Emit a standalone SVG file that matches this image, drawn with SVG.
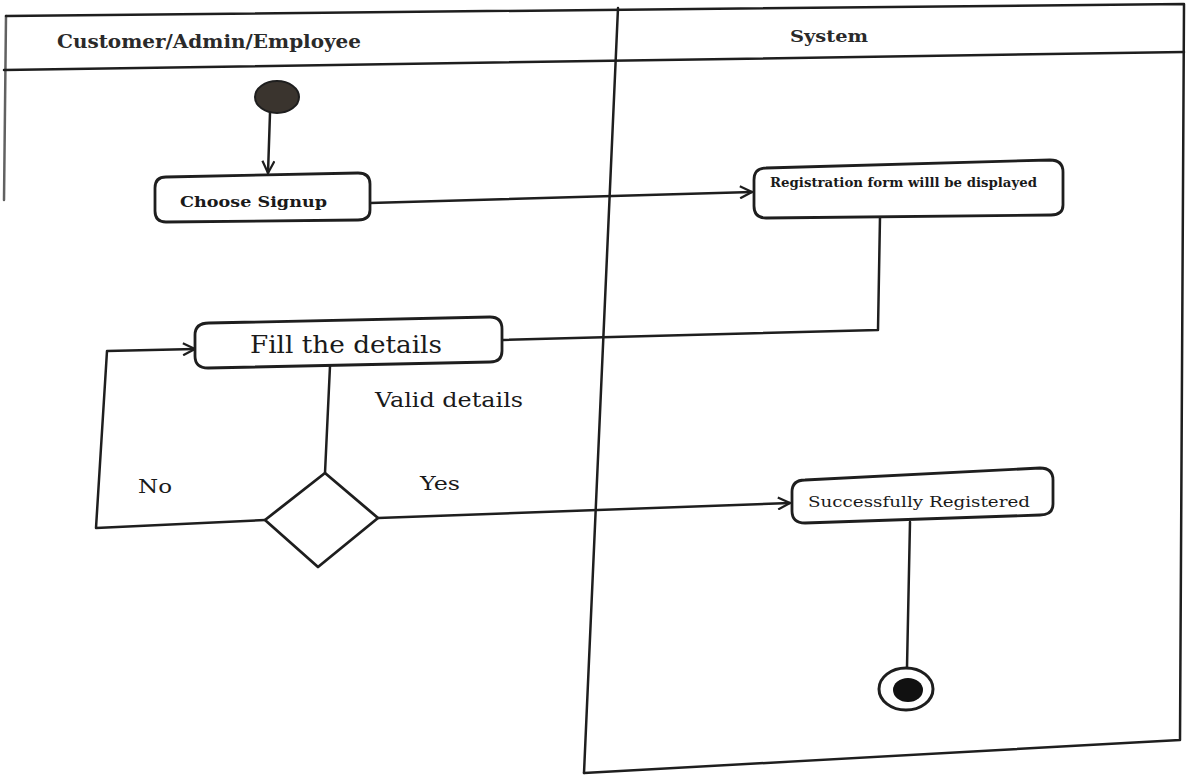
<svg xmlns="http://www.w3.org/2000/svg" width="1188" height="776" viewBox="0 0 1188 776">
<style>
.ln{fill:none;stroke:#1e1e1e;stroke-width:2.5;stroke-linejoin:round;stroke-linecap:round}
.box{fill:#fff;stroke:#1e1e1e;stroke-width:2.8;stroke-linejoin:round}
.t{font-family:"DejaVu Serif","Liberation Serif",serif;fill:#1a1a1a}
.h{font-weight:bold;fill:#2a2a2a}
</style>
<defs>
<marker id="arr" viewBox="0 0 14 14" refX="13" refY="7" markerWidth="14" markerHeight="14" markerUnits="userSpaceOnUse" orient="auto">
<path d="M1,1 L13,7 L1,13" fill="none" stroke="#1e1e1e" stroke-width="2.2"/>
</marker>
</defs>
<rect width="1188" height="776" fill="#fff"/>
<g id="frame">
<path class="ln" d="M6,16 L1184,4 L1180,740 L584,773" />
<path class="ln" d="M6,16 L4,200" stroke-opacity="0.7"/>
<path class="ln" d="M4,70 L1184,52"/>
<path class="ln" d="M618,8 L584,773"/>
<text class="t h" x="57" y="48" font-size="19" textLength="304" lengthAdjust="spacingAndGlyphs">Customer/Admin/Employee</text>
<text class="t h" x="790" y="42" font-size="17" textLength="78" lengthAdjust="spacingAndGlyphs">System</text>
</g>
<g id="connectors">
<path class="ln" d="M270,113 L268,173" marker-end="url(#arr)"/>
<path class="ln" d="M370,203 L752,192" marker-end="url(#arr)"/>
<path class="ln" d="M880,217 L878,330 L503,340"/>
<path class="ln" d="M330,366 L325,473"/>
<path class="ln" d="M265,520 L96,528 L107,351 L195,349" marker-end="url(#arr)"/>
<path class="ln" d="M378,518 L790,503" marker-end="url(#arr)"/>
<path class="ln" d="M910,522 L907,667"/>
<text class="t" x="375" y="407" font-size="20" textLength="148" lengthAdjust="spacingAndGlyphs">Valid details</text>
<text class="t" x="138" y="493" font-size="19" textLength="34" lengthAdjust="spacingAndGlyphs">No</text>
<text class="t" x="420" y="490" font-size="19" textLength="40" lengthAdjust="spacingAndGlyphs">Yes</text>
</g>
<g id="start">
<ellipse cx="277" cy="97" rx="22" ry="16" fill="#3a342e" stroke="#1e1e1e" stroke-width="2"/>
</g>
<g id="choose-signup">
<path class="box" d="M166,177 L358,173 Q370,173 370,184 L370,210 Q370,220 358,220 L166,222 Q155,222 155,211 L155,188 Q155,177 166,177 Z"/>
<text class="t" x="180" y="207" font-size="15" font-weight="bold" textLength="147" lengthAdjust="spacingAndGlyphs">Choose Signup</text>
</g>
<g id="registration-form">
<path class="box" d="M766,168 L1050,160 Q1063,160 1063,172 L1063,205 Q1063,215 1051,215 L766,218 Q754,218 754,206 L754,180 Q754,168 766,168 Z"/>
<text class="t" x="770" y="187" font-size="12" font-weight="bold" textLength="267" lengthAdjust="spacingAndGlyphs">Registration form willl be displayed</text>
</g>
<g id="fill-details">
<path class="box" d="M209,323 L490,317 Q502,317 502,329 L502,351 Q502,362 490,362 L208,368 Q195,368 195,356 L195,335 Q195,323 209,323 Z"/>
<text class="t" x="250" y="353" font-size="24" textLength="192" lengthAdjust="spacingAndGlyphs">Fill the details</text>
</g>
<g id="decision">
<path class="box" d="M325,473 L378,518 L318,567 L265,520 Z"/>
</g>
<g id="registered">
<path class="box" d="M805,480 L1040,468 Q1053,468 1053,480 L1053,504 Q1053,515 1040,515 L805,523 Q792,523 792,511 L792,492 Q792,480 805,480 Z"/>
<text class="t" x="808" y="507" font-size="15" textLength="222" lengthAdjust="spacingAndGlyphs">Successfully Registered</text>
</g>
<g id="end">
<ellipse cx="906" cy="689" rx="27" ry="21" fill="#fff" stroke="#1e1e1e" stroke-width="3"/>
<ellipse cx="908" cy="690" rx="15" ry="12" fill="#111"/>
</g>
</svg>
